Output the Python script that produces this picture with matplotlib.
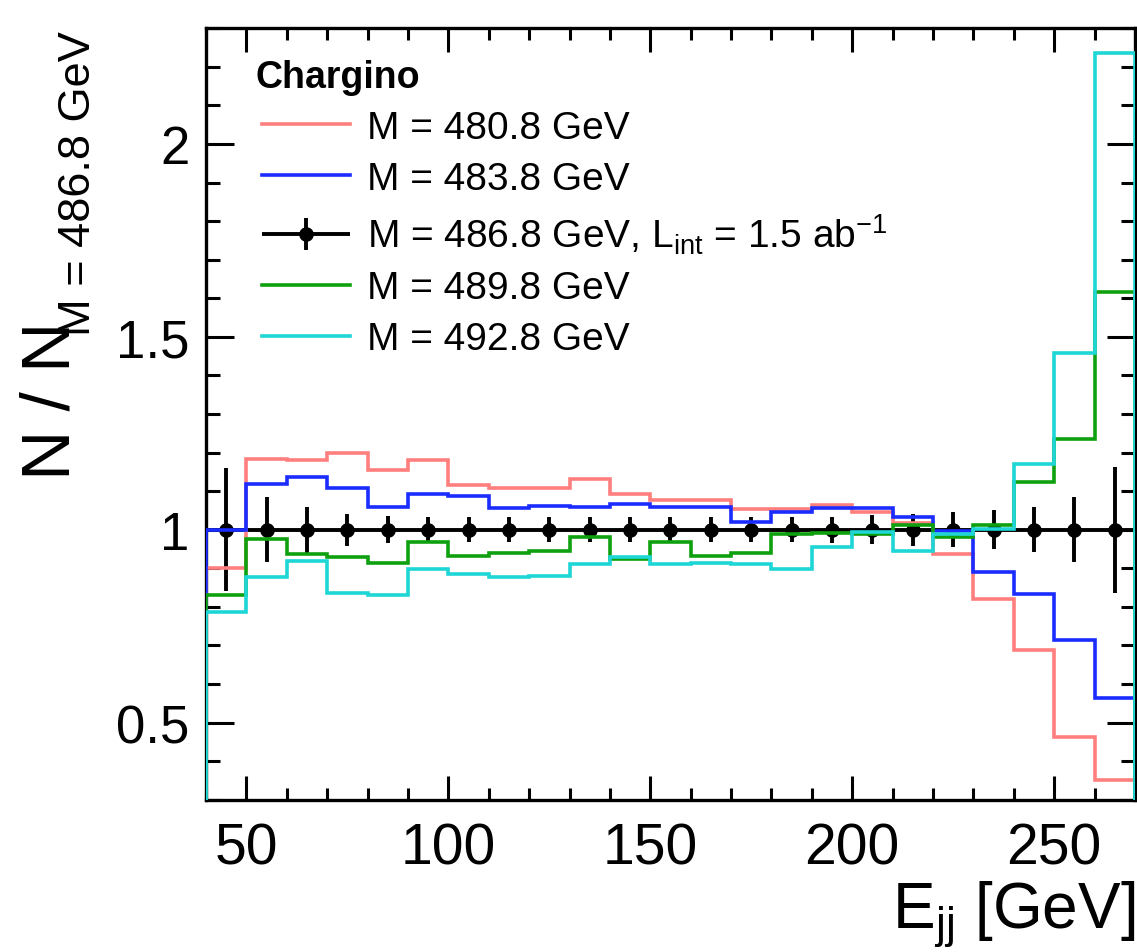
import numpy as np
import matplotlib
matplotlib.use("Agg")
import matplotlib.pyplot as plt
from matplotlib.ticker import MultipleLocator, FuncFormatter
from matplotlib.legend_handler import HandlerErrorbar
from matplotlib.container import ErrorbarContainer

plt.rcParams['font.family'] = ['Liberation Sans', 'DejaVu Sans']
plt.rcParams['mathtext.fontset'] = 'custom'
plt.rcParams['mathtext.rm'] = 'Liberation Sans'
plt.rcParams['mathtext.it'] = 'Liberation Sans'

# bin edges of E_jj [GeV]
bin_edges = [40, 50, 60, 70, 80, 90, 100, 110, 120, 130, 140, 150,
             160, 170, 180, 190, 200, 210, 220, 230, 240, 250, 260, 270]

# ratio N / N(M = 486.8 GeV) per bin
ratio_480 = [0.900, 1.183, 1.180, 1.199, 1.156, 1.180, 1.115, 1.109, 1.109, 1.132, 1.093, 1.078,
             1.078, 1.054, 1.054, 1.063, 1.046, 1.017, 0.938, 0.821, 0.688, 0.462, 0.350]
ratio_483 = [1.000, 1.119, 1.137, 1.109, 1.059, 1.093, 1.087, 1.056, 1.062, 1.059, 1.066, 1.059,
             1.059, 1.020, 1.046, 1.057, 1.057, 1.033, 0.996, 0.890, 0.833, 0.713, 0.564]
ratio_489 = [0.831, 0.975, 0.936, 0.929, 0.914, 0.968, 0.933, 0.939, 0.946, 0.980, 0.925, 0.968,
             0.933, 0.939, 0.990, 0.991, 0.990, 1.011, 0.982, 1.011, 1.124, 1.236, 1.617]
ratio_492 = [0.786, 0.877, 0.920, 0.837, 0.830, 0.897, 0.886, 0.877, 0.881, 0.910, 0.929, 0.910,
             0.914, 0.912, 0.899, 0.955, 0.994, 0.946, 0.990, 1.003, 1.171, 1.457, 2.235]

# reference sample (M = 486.8 GeV, 1.5 ab^-1): ratio is 1 with stat. errors
data_centers = [45, 55, 65, 75, 85, 95, 105, 115, 125, 135, 145, 155,
                165, 175, 185, 195, 205, 215, 225, 235, 245, 255, 265]
data_ratio = [1.0] * 23
data_err = [0.160, 0.085, 0.060, 0.042, 0.035, 0.034, 0.033, 0.032, 0.032, 0.032, 0.032, 0.032,
            0.032, 0.033, 0.033, 0.034, 0.037, 0.042, 0.045, 0.050, 0.058, 0.085, 0.163]
data_xerr = [5] * 23

labels = ["M = 480.8 GeV", "M = 483.8 GeV",
          r"M = 486.8 GeV, L$_{\mathregular{int}}$ = 1.5 ab$^{\mathregular{-1}}$",
          "M = 489.8 GeV", "M = 492.8 GeV"]
colors = ["#ff7f7f", "#1a2cff", "black", "#0fa00f", "#1fd6d6"]

fig = plt.figure(figsize=(11.37, 9.53), dpi=100)
ax = fig.add_axes([0.1812, 0.1598, 0.8170, 0.8095])

lw = 2.6
data = ax.errorbar(data_centers, data_ratio, yerr=data_err, xerr=data_xerr, fmt='o',
                   color='black', ms=9.5, elinewidth=2.8, capsize=0, zorder=2)
h480 = ax.stairs(ratio_480, bin_edges, baseline=0, color=colors[0], lw=lw, zorder=3)
h483 = ax.stairs(ratio_483, bin_edges, baseline=0, color=colors[1], lw=lw, zorder=3)
h489 = ax.stairs(ratio_489, bin_edges, baseline=0, color=colors[3], lw=lw, zorder=3)
h492 = ax.stairs(ratio_492, bin_edges, baseline=0, color=colors[4], lw=lw, zorder=3)

ax.set_xlim(40, 270)
ax.set_ylim(0.3, 2.3)

ax.xaxis.set_major_locator(MultipleLocator(50))
ax.xaxis.set_minor_locator(MultipleLocator(10))
ax.yaxis.set_major_locator(MultipleLocator(0.5))
ax.yaxis.set_minor_locator(MultipleLocator(0.1))
ax.yaxis.set_major_formatter(FuncFormatter(lambda v, p: "%g" % v))

ax.tick_params(which='both', direction='in', top=True, right=True, width=2.2)
ax.tick_params(axis='x', which='major', length=17, pad=16, labelsize=41)
ax.tick_params(axis='x', which='minor', length=8.5)
ax.tick_params(axis='y', which='major', length=20, pad=12, labelsize=38)
ax.tick_params(axis='y', which='minor', length=10)
for s in ax.spines.values():
    s.set_linewidth(2.4)

ax.set_xlabel(r"E$_{\mathregular{jj}}$ [GeV]", fontsize=46, ha='right')
ax.xaxis.set_label_coords(1.0, -0.103)

fig.text(20 / 1137, 1 - 480 / 953, "N / N", rotation=90, fontsize=50,
         ha='left', va='bottom')
fig.text(58 / 1137, 1 - 336 / 953, "M = 486.8 GeV", rotation=90, fontsize=32.5,
         ha='left', va='bottom')

ax.text(0.053, 0.937, "Chargino", transform=ax.transAxes, fontsize=27,
        fontweight='bold', ha='left', va='center')

leg = ax.legend([h480, h483, data, h489, h492], labels, loc='upper left',
                bbox_to_anchor=(0.0604, 0.894), frameon=False, fontsize=28,
                handlelength=2.25, handletextpad=0.45, labelspacing=0.38,
                borderpad=0, borderaxespad=0,
                handler_map={ErrorbarContainer: HandlerErrorbar(xerr_size=1.125, yerr_size=0.41)})

fig.savefig("out.png", dpi=100)
